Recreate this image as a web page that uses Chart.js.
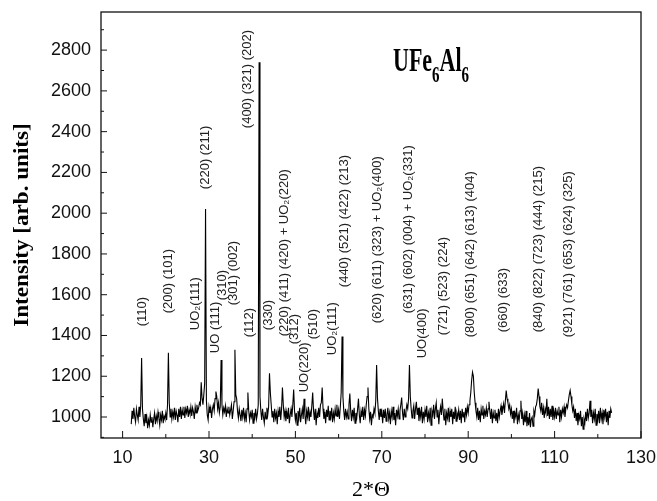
<!DOCTYPE html>
<html>
<head>
<meta charset="utf-8">
<script src="https://cdn.jsdelivr.net/npm/chart.js@4.4.0/dist/chart.umd.min.js"></script>
<style>
  body { margin: 0; background: #fff; }
  canvas { display: block; }
</style>
</head>
<body>
<canvas id="xrd" width="657" height="501"></canvas>
<script>
// scan: 2θ from 12.0° in 0.2° steps
const scanStart = 12.0;
const scanStep = 0.2;
// intensity (arb. units), one row = 2°
const intensity = [
  965, 1030, 990, 1045, 1000, 975, 1040, 1010, 985, 1050,
  1000, 1060, 1290, 1040, 990, 955, 1015, 970, 1000, 945,
  985, 960, 1010, 975, 1000, 950, 990, 1020, 965, 1005,
  980, 1025, 995, 960, 1010, 985, 1030, 970, 1005, 990,
  1020, 985, 1060, 1315, 1070, 1000, 1040, 990, 1025, 1000,
  1045, 985, 1030, 1010, 975, 1040, 1000, 1050, 990, 1035,
  1010, 1050, 995, 1040, 1020, 1055, 1000, 1035, 1015, 1050,
  1005, 1045, 1025, 990, 1050, 1020, 1060, 1030, 1045, 1070,
  1060, 1170, 1090, 1060, 1110, 1165, 2020, 1080, 1010, 985,
  1050, 1020, 1045, 995, 1040, 1060, 1030, 1090, 1125, 1100,
  1040, 1070, 1020, 1050, 1280, 1060, 1010, 1045, 1025, 1055,
  1000, 1040, 1020, 1050, 1010, 1035, 1060, 990, 1030, 1075,
  1330, 1110, 1090, 1030, 995, 1040, 1010, 980, 1035, 1000,
  1045, 990, 1020, 975, 1040, 1120, 1030, 985, 1020, 1000,
  1035, 970, 1020, 995, 1040, 990, 1015, 1060, 2740, 1100,
  1030, 985, 1040, 1000, 970, 1025, 990, 1045, 1010, 1050,
  1215, 1120, 1060, 1000, 1030, 975, 1040, 995, 1020, 965,
  1030, 1000, 1050, 985, 1040, 1145, 1060, 1000, 1030, 980,
  1025, 990, 1045, 970, 1010, 1040, 1000, 1060, 1135, 1030,
  985, 1020, 960, 1030, 995, 1045, 975, 1010, 1040, 990,
  1090, 1010, 965, 1030, 1000, 1050, 980, 1025, 1000, 1055,
  1120, 1030, 985, 1040, 960, 1020, 995, 1045, 1000, 1060,
  1070, 1145, 1040, 990, 1025, 970, 1035, 1000, 1055, 985,
  1030, 1000, 1045, 975, 1020, 990, 1040, 1005, 1060, 1000,
  1035, 990, 1050, 1120, 1395, 1100, 1030, 985, 1040, 1000,
  1025, 990, 1060, 1115, 1030, 980, 1035, 1000, 1045, 970,
  1020, 995, 1040, 1090, 1010, 970, 1030, 1000, 1050, 985,
  1035, 1005, 1060, 1100, 1145, 1040, 990, 1025, 960, 1010,
  1000, 1040, 1020, 1080, 1255, 1090, 1030, 985, 1040, 1000,
  1025, 970, 1035, 995, 1040, 980, 1010, 1045, 990, 1020,
  965, 1030, 1000, 1050, 985, 1020, 960, 1035, 1005, 1040,
  990, 1030, 1060, 1095, 1020, 985, 1040, 1000, 1030, 1060,
  1040, 1090, 1255, 1100, 1040, 995, 1030, 1055, 990, 1040,
  1075, 1010, 1045, 980, 1030, 1000, 1050, 970, 1025, 990,
  1035, 1000, 1055, 975, 1020, 990, 1045, 960, 1030, 1010,
  1060, 990, 1040, 1070, 1000, 1035, 965, 1020, 1050, 1010,
  1090, 1030, 985, 1040, 960, 1020, 995, 1045, 975, 1030,
  1000, 1040, 965, 1025, 990, 1050, 980, 1020, 1000, 1035,
  985, 1030, 970, 1040, 1000, 1025, 975, 1045, 1010, 1050,
  1020, 1060, 1080, 1120, 1180, 1220, 1200, 1120, 1070, 1030,
  1000, 1045, 985, 1030, 975, 1040, 1010, 1055, 990, 1030,
  1010, 1045, 1000, 1040, 1075, 1030, 990, 1040, 970, 1020,
  995, 1035, 980, 1020, 970, 1040, 1000, 1030, 1055, 1010,
  1040, 1065, 1020, 1080, 1130, 1090, 1070, 1040, 1060, 1015,
  1040, 990, 1030, 970, 1020, 1000, 1045, 965, 1010, 985,
  1030, 1080, 990, 1020, 960, 1010, 975, 1030, 955, 1000,
  960, 1020, 950, 990, 1000, 955, 1030, 1010, 1050, 1060,
  1090, 1140, 1100, 1050, 1030, 1070, 1010, 1045, 995, 1040,
  1020, 1090, 1005, 1050, 990, 1040, 1000, 1055, 985, 1030,
  1000, 1045, 990, 1030, 1010, 1050, 975, 1035, 1000, 1040,
  1020, 1050, 1000, 1040, 1060, 1045, 1080, 1110, 1130, 1100,
  1060, 1030, 1050, 995, 1040, 980, 1020, 960, 1010, 990,
  1030, 955, 1000, 940, 990, 970, 1025, 980, 1040, 995,
  1020, 1080, 1000, 1035, 970, 1020, 990, 1040, 960, 1015,
  985, 1030, 970, 1045, 990, 1020, 965, 1035, 1000, 1040,
  975, 1025, 960, 1030, 995, 1040, 1020
];

// axis ticks
const xTickValues = [10, 30, 50, 70, 90, 110, 130];
const xMinorTickValues = [20, 40, 60, 80, 100, 120];
const yTickValues = [1000, 1200, 1400, 1600, 1800, 2000, 2200, 2400, 2600, 2800];
const yMinorTickValues = [900, 1100, 1300, 1500, 1700, 1900, 2100, 2300, 2500, 2700, 2900];

// reflection labels: text, 2θ of the label, intensity where the text starts
const peakLabelText = [
  "(110)", "(200) (101)", "UO\u2082(111)", "(220) (211)", "UO (111)", "(310)",
  "(301) (002)", "(112)", "(400) (321) (202)", "(330)",
  "(220) (411) (420) + UO\u2082(220)", "(312)", "UO(220)", "(510)", "UO\u2082(111)",
  "(440) (521) (422) (213)", "(620) (611) (323) + UO\u2082(400)",
  "(631) (602) (004) + UO\u2082(331)", "UO(400)", "(721) (523) (224)",
  "(800) (651) (642) (613) (404)", "(660) (633)",
  "(840) (822) (723) (444) (215)", "(921) (761) (653) (624) (325)"
];
const peakLabelAngle = [
  14.5, 20.7, 26.8, 29.1, 31.4, 33.0,
  35.6, 39.3, 38.8, 43.7,
  47.4, 49.7, 52.2, 54.1, 58.5,
  61.3, 68.9,
  76.1, 79.3, 84.2,
  90.6, 98.1,
  106.2, 113.1
];
const peakLabelBase = [
  1445, 1509, 1426, 2118, 1313, 1573,
  1548, 1391, 2417, 1426,
  1396, 1357, 1121, 1381, 1303,
  1637, 1460,
  1509, 1288, 1401,
  1391, 1416,
  1416, 1391
];

const points = intensity.map((v, i) => ({ x: +(scanStart + i * scanStep).toFixed(2), y: v }));

const sans = "'Liberation Sans', Arial, sans-serif";
const serif = "'Liberation Serif', 'Times New Roman', serif";

const decor = {
  id: "decor",
  afterDatasetsDraw(chart) {
    const { ctx, chartArea: a, scales: { x, y } } = chart;
    ctx.save();
    ctx.strokeStyle = "#111";

    // frame
    ctx.lineWidth = 1.3;
    ctx.strokeRect(a.left, a.top, a.right - a.left, a.bottom - a.top);

    // inward ticks
    ctx.lineWidth = 1;
    ctx.beginPath();
    xTickValues.forEach(v => { const p = x.getPixelForValue(v); ctx.moveTo(p, a.bottom); ctx.lineTo(p, a.bottom - 7); });
    xMinorTickValues.forEach(v => { const p = x.getPixelForValue(v); ctx.moveTo(p, a.bottom); ctx.lineTo(p, a.bottom - 4); });
    yTickValues.forEach(v => { const p = y.getPixelForValue(v); ctx.moveTo(a.left, p); ctx.lineTo(a.left + 6, p); });
    yMinorTickValues.forEach(v => { const p = y.getPixelForValue(v); ctx.moveTo(a.left, p); ctx.lineTo(a.left + 3, p); });
    ctx.stroke();

    // reflection labels, rotated
    ctx.fillStyle = "#222";
    ctx.font = "13px " + sans;
    ctx.textAlign = "left";
    ctx.textBaseline = "middle";
    peakLabelText.forEach((t, i) => {
      ctx.save();
      ctx.translate(x.getPixelForValue(peakLabelAngle[i]), y.getPixelForValue(peakLabelBase[i]));
      ctx.rotate(-Math.PI / 2);
      ctx.fillText(t, 0, 0);
      ctx.restore();
    });

    // sample name
    ctx.fillStyle = "#000";
    ctx.textBaseline = "alphabetic";
    ctx.save();
    ctx.translate(393, 71);
    ctx.scale(1, 1.5);
    let cx = 0;
    const part = (txt, size, dy) => {
      ctx.font = "bold " + size + "px " + serif;
      ctx.fillText(txt, cx, dy);
      cx += ctx.measureText(txt).width;
    };
    part("UFe", 22, 0); part("6", 15, 7); part("Al", 22, 0); part("6", 15, 7);
    ctx.restore();

    // axis titles
    ctx.save();
    ctx.translate(23, (a.top + a.bottom) / 2);
    ctx.rotate(-Math.PI / 2);
    ctx.scale(1.1, 1);
    ctx.textAlign = "center";
    ctx.textBaseline = "middle";
    ctx.font = "bold 21px " + serif;
    ctx.fillText("Intensity [arb. units]", 0, 0);
    ctx.restore();

    ctx.textAlign = "center";
    ctx.textBaseline = "middle";
    ctx.font = "22px " + serif;
    ctx.fillText("2*\u0398", (a.left + a.right) / 2, 490);
    ctx.restore();
  }
};

new Chart(document.getElementById("xrd").getContext("2d"), {
  type: "line",
  data: {
    datasets: [{
      data: points,
      borderColor: "#000",
      borderWidth: 1.1,
      pointRadius: 0,
      tension: 0,
      fill: false
    }]
  },
  options: {
    responsive: false,
    animation: false,
    layout: { padding: { top: 12, right: 16, left: 0, bottom: 0 } },
    plugins: { legend: { display: false }, tooltip: { enabled: false } },
    scales: {
      x: {
        type: "linear",
        min: 5,
        max: 130,
        grid: { display: false, drawTicks: false },
        border: { display: false },
        ticks: { color: "#111", font: { family: sans, size: 18 }, padding: 9, maxRotation: 0, autoSkip: false, callback: v => String(v) },
        afterBuildTicks: s => { s.ticks = xTickValues.map(v => ({ value: v })); },
        afterFit: s => { s.height = 63; s.paddingLeft = 0; s.paddingRight = 0; }
      },
      y: {
        min: 897,
        max: 2987,
        grid: { display: false, drawTicks: false },
        border: { display: false },
        ticks: { color: "#111", font: { family: sans, size: 18 }, padding: 10, autoSkip: false, callback: v => String(v) },
        afterBuildTicks: s => { s.ticks = yTickValues.map(v => ({ value: v })); },
        afterFit: s => { s.width = 101; s.paddingTop = 0; s.paddingBottom = 0; }
      }
    }
  },
  plugins: [decor]
});
</script>
</body>
</html>
